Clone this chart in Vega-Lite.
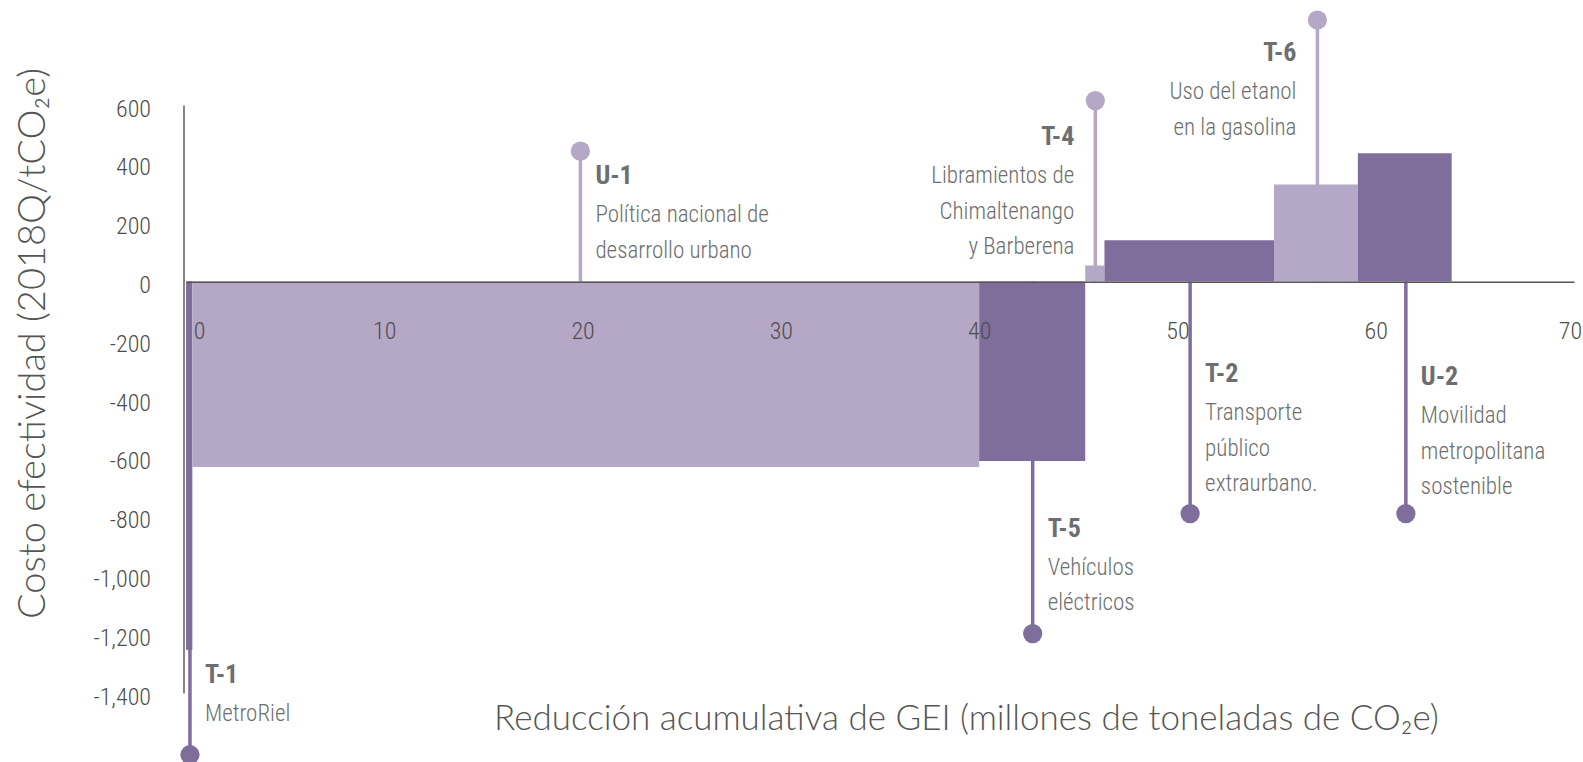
{
  "$schema": "https://vega.github.io/schema/vega-lite/v6.json",
  "width": 1388,
  "height": 588,
  "autosize": {"type": "none"},
  "padding": {"left": 186, "top": 105, "right": 9, "bottom": 69},
  "background": "white",
  "config": {"view": {"stroke": null}, "font": "Roboto Condensed, DejaVu Sans Condensed, Roboto"},
  "data": {
    "values": [
      {"code": "T-1", "name": ["MetroRiel"], "x0": 0, "x1": 0.32, "cost": -1253, "stem_x": 0.2, "dot": -1610, "label_y": -1336, "tono": "oscuro", "lado": "derecha"},
      {"code": "U-1", "name": ["Política nacional de", "desarrollo urbano"], "x0": 0.32, "x1": 40, "cost": -631, "stem_x": 19.89, "dot": 443, "label_y": 361, "tono": "claro", "lado": "derecha"},
      {"code": "T-5", "name": ["Vehículos", "eléctricos"], "x0": 40, "x1": 45.35, "cost": -611, "stem_x": 42.7, "dot": -1198, "label_y": -838, "tono": "oscuro", "lado": "derecha"},
      {"code": "T-4", "name": ["Libramientos de", "Chimaltenango", "y Barberena"], "x0": 45.35, "x1": 46.32, "cost": 54, "stem_x": 45.86, "dot": 615, "label_y": 493, "tono": "claro", "lado": "izquierda"},
      {"code": "T-2", "name": ["Transporte", "público", "extraurbano."], "x0": 46.32, "x1": 54.87, "cost": 140, "stem_x": 50.64, "dot": -790, "label_y": -312, "tono": "oscuro", "lado": "derecha"},
      {"code": "T-6", "name": ["Uso del etanol", "en la gasolina"], "x0": 54.87, "x1": 59.1, "cost": 330, "stem_x": 57.06, "dot": 889, "label_y": 780, "tono": "claro", "lado": "izquierda"},
      {"code": "U-2", "name": ["Movilidad", "metropolitana", " sostenible"], "x0": 59.1, "x1": 63.83, "cost": 436, "stem_x": 61.52, "dot": -790, "label_y": -323, "tono": "oscuro", "lado": "derecha"}
    ]
  },
  "layer": [
    {
      "mark": {"type": "rect"},
      "encoding": {
        "x": {
          "field": "x0", "type": "quantitative",
          "scale": {"domain": [0, 70], "nice": false, "zero": false},
          "axis": {
            "orient": "bottom",
            "offset": -411.3,
            "values": [0, 10, 20, 30, 40, 50, 60, 70],
            "title": "Reducción acumulativa de GEI (millones de toneladas de CO₂e)",
            "ticks": false,
            "tickSize": 0,
            "grid": false,
            "domainColor": "#555555",
            "domainWidth": 1.5,
            "labelFont": "Roboto Condensed, DejaVu Sans Condensed, Roboto",
            "labelFontWeight": 300,
            "labelFontSize": 24,
            "labelColor": "#4d4d4d",
            "labelPadding": 50,
            "labelBaseline": "middle",
            "labelFlush": false,
            "labelOverlap": false,
            "labelOffset": {"condition": [{"test": "datum.value === 0", "value": 13}, {"test": "datum.value === 70", "value": -4}], "value": 0},
            "titleFont": "Lato",
            "titleFontWeight": 300,
            "titleFontSize": 35,
            "titleColor": "#555555",
            "titleX": 780,
            "titleY": 437,
            "titleAlign": "center",
            "titleBaseline": "middle",
            "zindex": 1
          }
        },
        "x2": {"field": "x1"},
        "y": {
          "field": "cost", "type": "quantitative",
          "scale": {"domain": [-1400, 600], "nice": false},
          "axis": {
            "values": [-1400, -1200, -1000, -800, -600, -400, -200, 0, 200, 400, 600],
            "labelExpr": "replace(format(datum.value, ','), '\u2212', '-')",
            "title": "Costo efectividad (2018Q/tCO₂e)",
            "ticks": false,
            "tickSize": 0,
            "grid": false,
            "offset": 2.5,
            "domainColor": "#444444",
            "domainWidth": 1.3,
            "labelFont": "Roboto Condensed, DejaVu Sans Condensed, Roboto",
            "labelFontWeight": 300,
            "labelFontSize": 24,
            "labelColor": "#4d4d4d",
            "labelPadding": 33,
            "labelOffset": 4,
            "labelOverlap": false,
            "titleFont": "Lato",
            "titleFontWeight": 300,
            "titleFontSize": 38,
            "titleColor": "#555555",
            "titleAngle": 270,
            "titleX": -150,
            "titleY": 238,
            "titleAlign": "center",
            "titleBaseline": "middle"
          }
        },
        "y2": {"datum": 0},
        "color": {
          "field": "tono", "type": "nominal",
          "scale": {"domain": ["oscuro", "claro"], "range": ["#7f6d9b", "#b5a8c6"]},
          "legend": null
        }
      }
    },
    {
      "mark": {"type": "rule", "strokeWidth": 3.5},
      "encoding": {
        "x": {"field": "stem_x", "type": "quantitative"},
        "y": {"field": "dot", "type": "quantitative"},
        "y2": {"datum": 0},
        "color": {"field": "tono", "type": "nominal", "legend": null}
      }
    },
    {
      "mark": {"type": "point", "shape": "circle", "filled": true, "opacity": 1, "size": 370},
      "encoding": {
        "x": {"field": "stem_x", "type": "quantitative"},
        "y": {"field": "dot", "type": "quantitative"},
        "color": {"field": "tono", "type": "nominal", "legend": null}
      }
    },
    {
      "transform": [{"filter": "datum.lado === 'derecha'"}],
      "mark": {"type": "text", "align": "left", "baseline": "alphabetic", "dx": 15, "dy": 9, "font": "Roboto Condensed, DejaVu Sans Condensed, Roboto", "fontWeight": "bold", "fontSize": 26, "color": "#6d6e71"},
      "encoding": {
        "x": {"field": "stem_x", "type": "quantitative"},
        "y": {"field": "label_y", "type": "quantitative"},
        "text": {"field": "code"}
      }
    },
    {
      "transform": [{"filter": "datum.lado === 'derecha'"}],
      "mark": {"type": "text", "align": "left", "baseline": "alphabetic", "dx": 15, "dy": 47, "lineHeight": 35.5, "font": "Roboto Condensed, DejaVu Sans Condensed, Roboto", "fontWeight": 300, "fontSize": 23, "color": "#6d6e71"},
      "encoding": {
        "x": {"field": "stem_x", "type": "quantitative"},
        "y": {"field": "label_y", "type": "quantitative"},
        "text": {"field": "name"}
      }
    },
    {
      "transform": [{"filter": "datum.lado === 'izquierda'"}],
      "mark": {"type": "text", "align": "right", "baseline": "alphabetic", "dx": -21, "dy": 9, "font": "Roboto Condensed, DejaVu Sans Condensed, Roboto", "fontWeight": "bold", "fontSize": 26, "color": "#6d6e71"},
      "encoding": {
        "x": {"field": "stem_x", "type": "quantitative"},
        "y": {"field": "label_y", "type": "quantitative"},
        "text": {"field": "code"}
      }
    },
    {
      "transform": [{"filter": "datum.lado === 'izquierda'"}],
      "mark": {"type": "text", "align": "right", "baseline": "alphabetic", "dx": -21, "dy": 47, "lineHeight": 35.5, "font": "Roboto Condensed, DejaVu Sans Condensed, Roboto", "fontWeight": 300, "fontSize": 23, "color": "#6d6e71"},
      "encoding": {
        "x": {"field": "stem_x", "type": "quantitative"},
        "y": {"field": "label_y", "type": "quantitative"},
        "text": {"field": "name"}
      }
    }
  ]
}
